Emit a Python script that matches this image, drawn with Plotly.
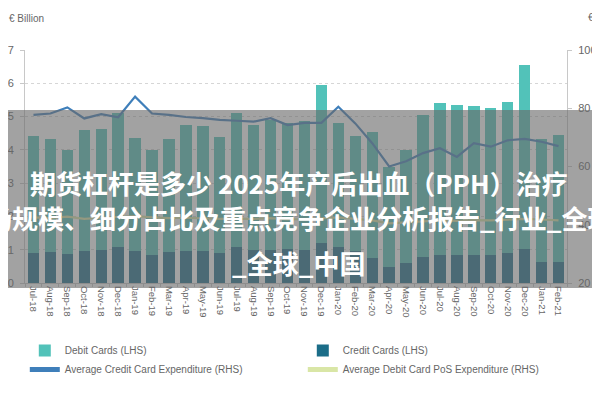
import plotly.graph_objects as go

months = ["Jul-18", "Aug-18", "Sep-18", "Oct-18", "Nov-18", "Dec-18",
          "Jan-19", "Feb-19", "Mar-19", "Apr-19", "May-19", "Jun-19",
          "Jul-19", "Aug-19", "Sep-19", "Oct-19", "Nov-19", "Dec-19",
          "Jan-20", "Feb-20", "Mar-20", "Apr-20", "May-20", "Jun-20",
          "Jul-20", "Aug-20", "Sep-20", "Oct-20", "Nov-20", "Dec-20",
          "Jan-21", "Feb-21"]

# Credit card payments (€ billion, LHS)
credit_cards = [0.90, 0.94, 0.87, 0.96, 1.00, 1.08,
                0.97, 0.85, 0.92, 0.97, 0.97, 0.91,
                1.08, 0.98, 1.00, 1.02, 1.00, 1.20,
                1.08, 0.97, 0.75, 0.48, 0.60, 0.77,
                0.84, 0.84, 0.84, 0.85, 0.90, 1.02,
                0.63, 0.63]

# Debit card payments (€ billion, LHS) - stacked on top of credit
debit_cards = [3.51, 3.39, 3.13, 3.64, 3.63, 4.02,
               3.38, 3.15, 3.40, 3.78, 3.75, 3.47,
               4.02, 3.77, 3.90, 3.80, 3.87, 4.75,
               3.74, 3.44, 3.78, 3.02, 3.40, 4.28,
               4.56, 4.51, 4.48, 4.40, 4.55, 5.53,
               3.69, 3.82]

# Average credit card expenditure (€, RHS)
avg_credit_exp = [77.7, 78.2, 80.3, 76.5, 78.0, 76.9,
                  84.0, 78.2, 77.7, 77.0, 76.6, 76.0,
                  75.7, 75.4, 76.6, 74.2, 75.0, 75.0,
                  80.5, 74.8, 68.0, 60.0, 61.8, 64.6,
                  66.3, 63.3, 68.0, 66.8, 69.0, 69.5,
                  68.5, 67.0]

# Average debit card PoS expenditure (€, RHS)
avg_debit_pos_exp = [42.5, 42.3, 42.8, 42.0, 42.4, 42.6,
                     43.0, 42.5, 42.3, 42.4, 42.2, 42.0,
                     42.1, 42.0, 42.3, 41.8, 41.9, 42.2,
                     42.5, 42.0, 41.5, 40.5, 40.8, 41.2,
                     41.5, 41.3, 41.6, 41.5, 41.8, 42.0,
                     41.8, 41.5]

left_ticks = [0, 1, 2, 3, 4, 5, 6, 7]
right_ticks = [20, 40, 60, 80, 100]

COL_DEBIT = "#52c2b9"
COL_CREDIT = "#1b6d88"
COL_AVG_CREDIT = "#3f7fba"
COL_AVG_DEBIT = "#d9e6a6"
TXT = "#666666"
FONT = "Liberation Sans Narrow, Liberation Sans, Arial, sans-serif"

fig = go.Figure()
fig.add_trace(go.Bar(x=months, y=credit_cards, name="Credit Cards (LHS)",
                     marker=dict(color=COL_CREDIT, line=dict(width=0)),
                     legendrank=2))
fig.add_trace(go.Bar(x=months, y=debit_cards, name="Debit Cards (LHS)",
                     marker=dict(color=COL_DEBIT, line=dict(width=0)),
                     legendrank=1))
fig.add_trace(go.Scatter(x=months, y=avg_credit_exp, yaxis="y2", mode="lines",
                         name="Average Credit Card Expenditure (RHS)",
                         line=dict(color=COL_AVG_CREDIT, width=2.2),
                         legendrank=3))
fig.add_trace(go.Scatter(x=months, y=avg_debit_pos_exp, yaxis="y2", mode="lines",
                         name="Average Debit Card PoS Expenditure (RHS)",
                         line=dict(color=COL_AVG_DEBIT, width=2.2),
                         legendrank=4))

# The page places the figure 8px in from the window's top-left corner,
# so margins are set so the plot area lands at picture px 25..567 x 50..283.
OFF = 8
W, H = 600, 400
L, T = 25 - OFF, 50 - OFF
R, B = W - (567 - OFF), H - (283 - OFF)
PW, PH = W - L - R, H - T - B


def px(x):  # picture pixel x -> paper
    return (x - OFF - L) / PW


def py(y):  # picture pixel y -> paper
    return (H - B - (y - OFF)) / PH


fig.add_shape(type="rect", xref="paper", yref="paper",
              x0=px(-5), x1=px(610), y0=py(110), y1=py(288),
              fillcolor="rgba(105,105,105,0.62)", line=dict(width=0),
              layer="above")

cjk = "Noto Sans CJK SC"
banner_lines = [
    ("期货杠杆是多少 2025年产后出血（PPH）治疗", 299, 182, "center"),
    ("市场规模、细分占比及重点竞争企业分析报告_行业_全球", -42, 217, "left"),
    ("_全球_中国", 298, 262, "center"),
]
for txt, xp, yp, anc in banner_lines:
    fig.add_annotation(text="<b>" + txt + "</b>", xref="paper", yref="paper",
                       x=px(xp), y=py(yp), xanchor=anc, yanchor="middle",
                       showarrow=False,
                       font=dict(family=cjk, size=26, color="white"))

fig.add_annotation(text="€ Billion", xref="paper", yref="paper",
                   x=px(7), y=py(19), xanchor="left", yanchor="middle",
                   showarrow=False, font=dict(family=FONT, size=10, color=TXT))
fig.add_annotation(text="€", xref="paper", yref="paper",
                   x=px(586), y=py(17), xanchor="left", yanchor="middle",
                   showarrow=False, font=dict(family=FONT, size=11, color=TXT))

fig.update_layout(
    width=W, height=H,
    margin=dict(l=L, r=R, t=T, b=B, autoexpand=False),
    paper_bgcolor="white", plot_bgcolor="white",
    barmode="stack", bargap=0.33,
    font=dict(family=FONT, size=10, color=TXT),
    xaxis=dict(type="category", tickangle=90, tickfont=dict(size=9.5, color=TXT),
               showline=True, linecolor="#c8c8c8", linewidth=1,
               ticks="outside", ticklen=3, tickcolor="#c8c8c8",
               tickson="boundaries", showgrid=False, automargin=False),
    yaxis=dict(range=[0, 7], tickvals=left_ticks,
               tickfont=dict(size=11, color=TXT), ticklabelstandoff=4,
               showline=True, linecolor="#c8c8c8", linewidth=1,
               ticks="outside", ticklen=4, tickcolor="#c8c8c8",
               showgrid=True, gridcolor="#d6d6d6", griddash="dot", gridwidth=1,
               zeroline=False, automargin=False),
    yaxis2=dict(range=[20, 100], tickvals=right_ticks, overlaying="y", side="right",
                tickfont=dict(size=11, color=TXT), ticklabelstandoff=4,
                showline=True, linecolor="#c8c8c8", linewidth=1,
                ticks="outside", ticklen=4, tickcolor="#c8c8c8",
                showgrid=False, zeroline=False, automargin=False),
    legend=dict(orientation="h", x=px(24.8), y=py(336), xanchor="left", yanchor="top",
                entrywidth=233, entrywidthmode="pixels", traceorder="normal",
                tracegroupgap=0,
                font=dict(family=FONT, size=10, color=TXT),
                bgcolor="rgba(0,0,0,0)", itemsizing="constant"),
)

fig.write_html("out.html")
